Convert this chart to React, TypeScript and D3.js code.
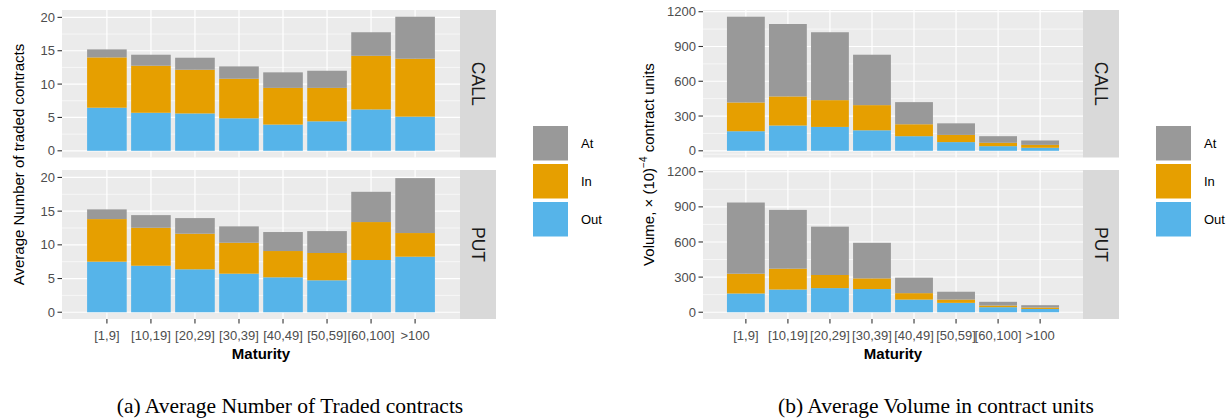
import React from "react";
import * as d3 from "d3";

const maturities = ["[1,9]", "[10,19]", "[20,29]", "[30,39]", "[40,49]", "[50,59]", "[60,100]", ">100"];
const moneyness = ["Out", "In", "At"];
const legendOrder = ["At", "In", "Out"];
const colors: Record<string, string> = { At: "#999999", In: "#E69F00", Out: "#56B4E9" };

// (a) Average number of traded contracts — segment sizes
const countCallOut = [6.46, 5.7, 5.6, 4.87, 3.93, 4.42, 6.2, 5.12];
const countCallIn = [7.54, 7.05, 6.55, 5.93, 5.5, 5.01, 8.04, 8.68];
const countCallAt = [1.2, 1.65, 1.8, 1.85, 2.33, 2.57, 3.53, 6.3];
const countPutOut = [7.5, 6.9, 6.37, 5.72, 5.18, 4.74, 7.75, 8.24];
const countPutIn = [6.32, 5.63, 5.28, 4.59, 3.9, 4.05, 5.63, 3.51];
const countPutAt = [1.44, 1.88, 2.32, 2.43, 2.82, 3.25, 4.49, 8.15];
const countTicks = [0, 5, 10, 15, 20];

// (b) Average volume, x(10)^-4 contract units — segment sizes
const volCallOut = [169, 218, 206, 177, 126, 75, 40, 26];
const volCallIn = [248, 251, 231, 217, 103, 62, 29, 25];
const volCallAt = [740, 625, 586, 435, 191, 100, 57, 38];
const volPutOut = [160, 194, 206, 198, 108, 80, 43, 28];
const volPutIn = [169, 178, 112, 91, 55, 28, 14, 12];
const volPutAt = [608, 502, 413, 304, 132, 67, 32, 20];
const volTicks = [0, 300, 600, 900, 1200];

const facets = ["CALL", "PUT"];

type Row = { cat: string; Out: number; In: number; At: number };

function rows(out: number[], inn: number[], at: number[]): Row[] {
  return maturities.map((c, i) => ({ cat: c, Out: out[i], In: inn[i], At: at[i] }));
}

const sansFont = "'Liberation Sans', Arial, Helvetica, sans-serif";
const serifFont = "'Liberation Serif', 'Times New Roman', serif";

type ChartProps = {
  data: Row[][];
  ticks: number[];
  minorStep: number;
  px0: number;
  px1: number;
  yTitle: React.ReactNode;
  yTitleX: number;
  legendX: number;
};

function Chart({ data, ticks, minorStep, px0, px1, yTitle, yTitleX, legendX }: ChartProps) {
  const panels = [
    { y0: 10, y1: 157.5 },
    { y0: 170, y1: 319 },
  ];
  const stripW = 36;
  const x = d3.scalePoint<string>().domain(maturities).range([px0, px1]).padding(1.02);
  const bw = x.step() * 0.9;
  const maxTotal = d3.max(data.flat(), (r) => r.Out + r.In + r.At) as number;
  const stack = d3.stack<Row>().keys(moneyness);
  const minors = d3.range(minorStep / 2, ticks[ticks.length - 1] + minorStep, minorStep).filter((v) => !ticks.includes(v));

  return (
    <g>
      {panels.map((p, pi) => {
        const y = d3.scaleLinear().domain([-maxTotal * 0.05, maxTotal * 1.05]).range([p.y1, p.y0]);
        const series = stack(data[pi]);
        return (
          <g key={pi}>
            <rect x={px0} y={p.y0} width={px1 - px0} height={p.y1 - p.y0} fill="#EBEBEB" />
            {minors.map((v) => (
              <line key={"m" + v} x1={px0} x2={px1} y1={y(v)} y2={y(v)} stroke="#FFFFFF" strokeWidth={0.6} />
            ))}
            {ticks.map((v) => (
              <line key={"t" + v} x1={px0} x2={px1} y1={y(v)} y2={y(v)} stroke="#FFFFFF" strokeWidth={1.2} />
            ))}
            {maturities.map((c) => (
              <line key={"v" + c} x1={x(c)} x2={x(c)} y1={p.y0} y2={p.y1} stroke="#FFFFFF" strokeWidth={1.2} />
            ))}
            {series.map((s) => (
              <g key={s.key}>
                {s.map((d, i) => (
                  <rect
                    key={i}
                    x={(x(d.data.cat) as number) - bw / 2}
                    y={y(d[1])}
                    width={bw}
                    height={Math.max(0, y(d[0]) - y(d[1]))}
                    fill={colors[s.key]}
                  />
                ))}
              </g>
            ))}
            {ticks.map((v) => (
              <g key={"yl" + v}>
                <line x1={px0 - 4.5} x2={px0} y1={y(v)} y2={y(v)} stroke="#333333" strokeWidth={1.1} />
                <text x={px0 - 7} y={y(v)} dy="0.35em" textAnchor="end" fontSize={13} fill="#4D4D4D" fontFamily={sansFont}>
                  {v}
                </text>
              </g>
            ))}
            <rect x={px1} y={p.y0} width={stripW} height={p.y1 - p.y0} fill="#D9D9D9" />
            <text
              transform={`translate(${px1 + stripW / 2},${(p.y0 + p.y1) / 2}) rotate(90)`}
              textAnchor="middle"
              dy="0.35em"
              fontSize={17.5}
              fill="#1A1A1A"
              fontFamily={sansFont}
            >
              {facets[pi]}
            </text>
          </g>
        );
      })}
      {maturities.map((c) => (
        <g key={"xl" + c}>
          <line x1={x(c)} x2={x(c)} y1={319} y2={323.5} stroke="#333333" strokeWidth={1.1} />
          <text x={x(c)} y={339.5} textAnchor="middle" fontSize={13} fill="#4D4D4D" fontFamily={sansFont}>
            {c}
          </text>
        </g>
      ))}
      <text x={(px0 + px1) / 2} y={359} textAnchor="middle" fontSize={15} fontWeight="bold" fill="#000" fontFamily={sansFont}>
        Maturity
      </text>
      <text
        transform={`translate(${yTitleX},${(10 + 319) / 2}) rotate(-90)`}
        textAnchor="middle"
        fontSize={15}
        fill="#000"
        fontFamily={sansFont}
      >
        {yTitle}
      </text>
      {legendOrder.map((k, i) => (
        <g key={"lg" + k}>
          <rect x={legendX} y={126 + i * 38} width={35} height={34.5} fill={colors[k]} />
          <text x={legendX + 48} y={126 + i * 38 + 17.5} dy="0.35em" fontSize={13} fill="#000" fontFamily={sansFont}>
            {k}
          </text>
        </g>
      ))}
    </g>
  );
}

export default function App() {
  const countData = [rows(countCallOut, countCallIn, countCallAt), rows(countPutOut, countPutIn, countPutAt)];
  const volData = [rows(volCallOut, volCallIn, volCallAt), rows(volPutOut, volPutIn, volPutAt)];
  return (
    <svg width={1232} height={420} style={{ position: "absolute", left: 0, top: 0, background: "#fff" }}>
      <rect width={1232} height={420} fill="#fff" />
      <Chart
        data={countData}
        ticks={countTicks}
        minorStep={5}
        px0={62}
        px1={460}
        yTitle="Average Number of traded contracts"
        yTitleX={24}
        legendX={533}
      />
      <Chart
        data={volData}
        ticks={volTicks}
        minorStep={300}
        px0={703}
        px1={1083}
        yTitle={
          <>
            Volume,  × (10)
            <tspan dy={-7} fontSize={10}>−4</tspan>
            <tspan dy={7}> contract units</tspan>
          </>
        }
        yTitleX={654}
        legendX={1156}
      />
      <text x={290} y={413} textAnchor="middle" fontSize={21.5} fill="#000" fontFamily={serifFont}>
        (a) Average Number of Traded contracts
      </text>
      <text x={936} y={413} textAnchor="middle" fontSize={21.5} fill="#000" fontFamily={serifFont}>
        (b) Average Volume in contract units
      </text>
    </svg>
  );
}
